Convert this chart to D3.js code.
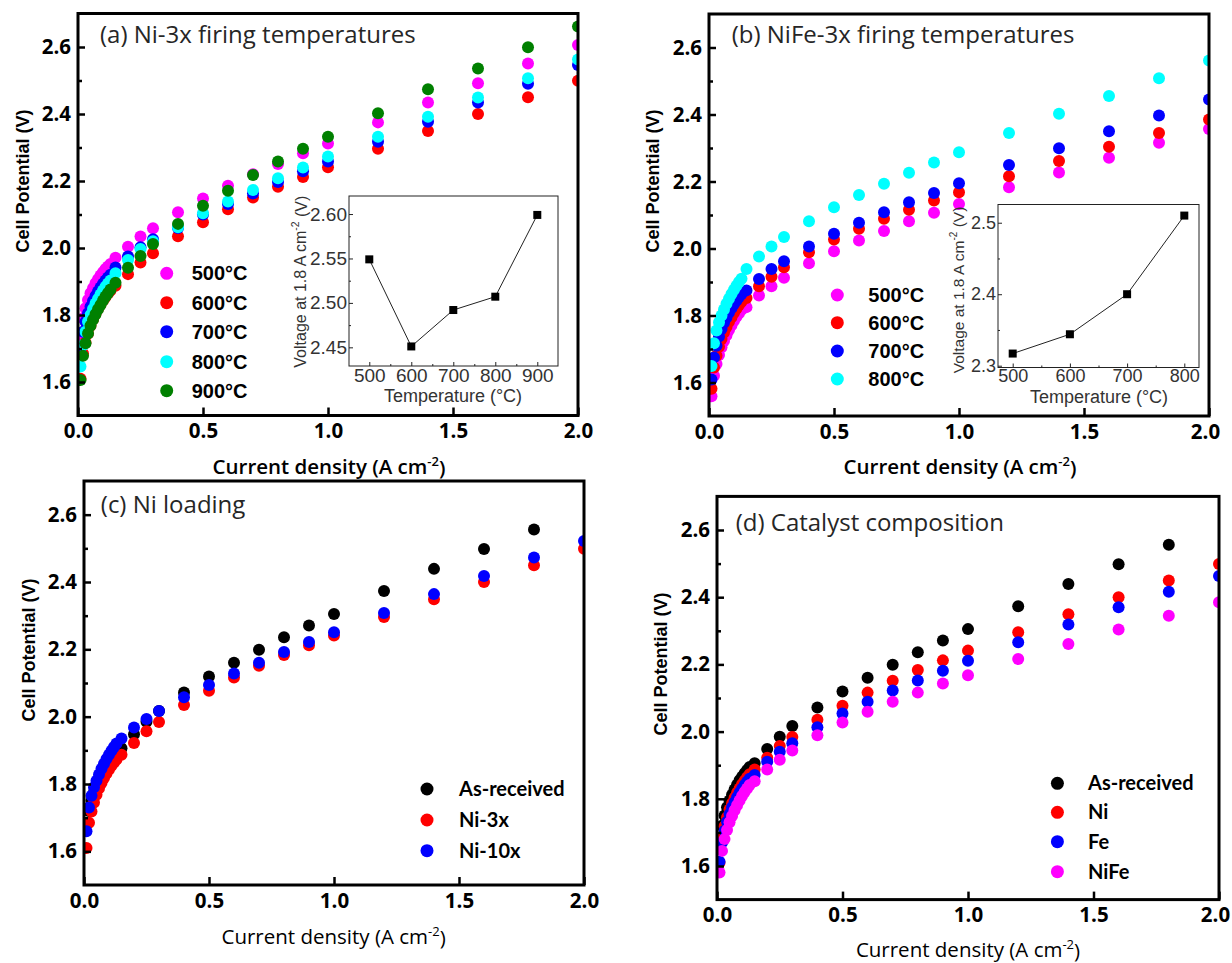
<!DOCTYPE html>
<html><head><meta charset="utf-8">
<script src="https://cdn.jsdelivr.net/npm/d3@7"></script>
<style>body{margin:0;background:#fff}</style>
</head><body>
<svg id="chart" width="1232" height="963"></svg>
<script>
// ---------- DATA ----------
const currentDensity = [0.01,0.02,0.03,0.04,0.05,0.06,0.07,0.08,0.09,0.10,0.11,0.12,0.13,
  0.15,0.2,0.25,0.3,0.4,0.5,0.6,0.7,0.8,0.9,1.0,1.2,1.4,1.6,1.8,2.0];
const yTicks = [1.6,1.8,2.0,2.2,2.4,2.6];
const yMinorTicks = [1.7,1.9,2.1,2.3,2.5];
const xTicks = [0,0.5,1.0,1.5,2.0];

// (a) Ni-3x firing temperatures
const a500 = [1.74,1.79,1.82,1.845,1.865,1.88,1.895,1.907,1.918,1.928,1.937,1.945,1.952,
  1.971,2.004,2.034,2.059,2.107,2.148,2.186,2.220,2.251,2.283,2.312,2.375,2.434,2.492,2.551,2.606];
const a600 = [1.61,1.685,1.718,1.745,1.768,1.787,1.803,1.818,1.831,1.843,1.854,1.864,1.873,
  1.887,1.922,1.957,1.984,2.035,2.077,2.116,2.151,2.183,2.212,2.241,2.296,2.349,2.400,2.450,2.499];
const a700 = [1.70,1.75,1.78,1.805,1.825,1.842,1.857,1.870,1.882,1.893,1.903,1.912,1.920,
  1.942,1.975,2.002,2.026,2.060,2.100,2.131,2.163,2.197,2.229,2.258,2.317,2.377,2.434,2.490,2.546];
const a800 = [1.646,1.71,1.75,1.78,1.80,1.818,1.834,1.848,1.861,1.873,1.884,1.894,1.903,
  1.925,1.964,1.997,2.020,2.062,2.104,2.139,2.173,2.208,2.240,2.273,2.332,2.392,2.449,2.507,2.563];
const a900 = [1.606,1.678,1.716,1.745,1.768,1.786,1.802,1.817,1.830,1.843,1.855,1.866,1.876,
  1.896,1.941,1.976,2.012,2.072,2.126,2.171,2.218,2.258,2.296,2.332,2.402,2.474,2.536,2.599,2.661];

// (b) NiFe-3x firing temperatures
const b500 = [1.559,1.62,1.655,1.682,1.705,1.724,1.741,1.757,1.771,1.784,1.796,1.807,1.817,
  1.825,1.860,1.887,1.913,1.956,1.992,2.024,2.052,2.081,2.107,2.133,2.183,2.227,2.271,2.316,2.357];
const b600 = [1.581,1.645,1.68,1.707,1.73,1.749,1.766,1.781,1.795,1.808,1.820,1.831,1.841,
  1.852,1.887,1.916,1.944,1.989,2.027,2.059,2.089,2.116,2.143,2.168,2.216,2.261,2.304,2.345,2.385];
const b700 = [1.609,1.675,1.71,1.737,1.76,1.778,1.794,1.809,1.822,1.834,1.845,1.855,1.864,
  1.875,1.909,1.939,1.962,2.006,2.044,2.077,2.108,2.138,2.166,2.195,2.249,2.299,2.350,2.397,2.445];
const b800 = [1.649,1.717,1.755,1.78,1.80,1.818,1.835,1.850,1.864,1.877,1.889,1.900,1.910,
  1.939,1.976,2.006,2.034,2.081,2.123,2.160,2.193,2.226,2.257,2.287,2.345,2.402,2.455,2.508,2.561];

// (c)/(d) loading and composition
const asReceived = [1.68,1.72,1.75,1.775,1.795,1.812,1.828,1.842,1.855,1.866,1.876,1.886,1.895,
  1.906,1.948,1.985,2.017,2.072,2.119,2.160,2.199,2.236,2.271,2.305,2.373,2.439,2.498,2.556];
const ni3x = a600;
const ni10x = [1.66,1.73,1.765,1.79,1.81,1.828,1.845,1.860,1.874,1.887,1.899,1.910,1.920,
  1.935,1.968,1.993,2.017,2.058,2.094,2.128,2.160,2.192,2.222,2.251,2.308,2.364,2.418,2.473,2.522];
const feCat = [1.613,1.67,1.705,1.732,1.755,1.774,1.790,1.805,1.818,1.830,1.841,1.851,1.860,
  1.871,1.910,1.940,1.965,2.013,2.054,2.089,2.122,2.152,2.181,2.211,2.266,2.319,2.370,2.416,2.463];
const niFeCat = b600;

// insets: voltage at 1.8 A cm-2 vs firing temperature
const insetATemps = [500,600,700,800,900];
const insetAVolts = [2.549,2.451,2.492,2.507,2.599];
const insetBTemps = [500,600,700,800];
const insetBVolts = [2.317,2.344,2.400,2.510];

// ---------- DRAW ----------
const svg = d3.select("#chart");
const CAL = "'Open Sans', Lato, sans-serif";
const LATO = "Lato, 'Open Sans', sans-serif";
const ARIAL = "'Liberation Sans', Arial, sans-serif";
const colors = {mag:"#ff00ff", red:"#ff0000", blue:"#0000ff", cyan:"#00ffff", green:"#008000", black:"#000000"};

const panels = [
  {id:"a", box:{l:78,r:578,t:13.5,b:415.5}, title:"(a) Ni-3x firing temperatures", titlePos:[100,35],
   ylab:[22.7,181], xlab:[329,467], legendFont:ARIAL, legendSize:20, legendWeight:"bold",
   legend:{mx:166.7, tx:191.7, ys:[273.3,302.7,331.7,361.7,390.7]},
   series:[{n:"500°C",c:colors.mag,v:a500},{n:"600°C",c:colors.red,v:a600},{n:"700°C",c:colors.blue,v:a700},
           {n:"800°C",c:colors.cyan,v:a800},{n:"900°C",c:colors.green,v:a900}]},
  {id:"b", box:{l:709,r:1209,t:14,b:416}, title:"(b) NiFe-3x firing temperatures", titlePos:[731.7,35],
   ylab:[653,181], xlab:[960,467], legendFont:ARIAL, legendSize:20, legendWeight:"bold",
   legend:{mx:837.3, tx:868.3, ys:[295,322.7,351,379]},
   series:[{n:"500°C",c:colors.mag,v:b500},{n:"600°C",c:colors.red,v:b600},{n:"700°C",c:colors.blue,v:b700},
           {n:"800°C",c:colors.cyan,v:b800}]},
  {id:"c", box:{l:84,r:584,t:481,b:885}, title:"(c) Ni loading", titlePos:[100.8,505],
   ylab:[29,650], xlab:[333.6,937], legendFont:LATO, legendSize:20, legendWeight:"bold",
   legend:{mx:427, tx:459, ys:[789,820,850.7]},
   series:[{n:"As-received",c:colors.black,v:asReceived},{n:"Ni-3x",c:colors.red,v:ni3x},{n:"Ni-10x",c:colors.blue,v:ni10x}]},
  {id:"d", box:{l:717,r:1219,t:496.4,b:899.6}, title:"(d) Catalyst composition", titlePos:[735.7,522.7],
   ylab:[661,664], xlab:[968,950], legendFont:LATO, legendSize:20, legendWeight:"bold",
   legend:{mx:1057.4, tx:1088, ys:[783.3,812.3,841.7,871.7]},
   series:[{n:"As-received",c:colors.black,v:asReceived},{n:"Ni",c:colors.red,v:ni3x},{n:"Fe",c:colors.blue,v:feCat},{n:"NiFe",c:colors.mag,v:niFeCat}]}
];

const defs = svg.append("defs");

panels.forEach(p => {
  const {l,r,t,b} = p.box;
  const x = d3.scaleLinear().domain([0,2]).range([l,r]);
  const y = d3.scaleLinear().domain([1.5,2.7]).range([b,t]);
  const g = svg.append("g");

  defs.append("clipPath").attr("id","clip-"+p.id)
    .append("rect").attr("x",l).attr("y",t).attr("width",r-l).attr("height",b-t);

  // points
  const pg = g.append("g").attr("clip-path","url(#clip-"+p.id+")");
  p.series.forEach(s => {
    pg.append("g").selectAll("circle")
      .data(s.v.map((v,i)=>[currentDensity[i], v]))
      .join("circle")
      .attr("cx", d=>x(d[0])).attr("cy", d=>y(d[1])).attr("r",6)
      .attr("fill", s.c);
  });

  // axes
  const ya = g.append("g").attr("transform",`translate(${l},0)`)
    .call(d3.axisLeft(y).tickValues(yTicks).tickFormat(d3.format(".1f")).tickSizeInner(-7).tickSizeOuter(0).tickPadding(7));
  const ym = g.append("g").attr("transform",`translate(${l},0)`)
    .call(d3.axisLeft(y).tickValues(yMinorTicks).tickFormat("").tickSizeInner(-4).tickSizeOuter(0));
  const xa = g.append("g").attr("transform",`translate(0,${b})`)
    .call(d3.axisBottom(x).tickValues(xTicks).tickFormat(d3.format(".1f")).tickSizeInner(-8).tickSizeOuter(0).tickPadding(8));
  [ya,ym,xa].forEach(ax => {
    ax.select(".domain").remove();
    ax.selectAll("line").attr("stroke","#000").attr("stroke-width",2.5);
    ax.selectAll("text").attr("font-family",CAL).attr("font-size",20.5).attr("font-weight","bold").attr("fill","#000");
  });
  // keep the last tick label inside the canvas
  if (r > 1200) xa.selectAll(".tick text").filter(d => d === 2.0).attr("dx", -4);

  // frame
  g.append("rect").attr("x",l).attr("y",t).attr("width",r-l).attr("height",b-t)
    .attr("fill","none").attr("stroke","#000").attr("stroke-width",3);

  // title
  g.append("text").attr("x",p.titlePos[0]).attr("y",p.titlePos[1]).attr("dy","0.35em")
    .attr("font-family",CAL).attr("font-size",24).attr("fill","#262626").text(p.title);

  // y label
  g.append("text").attr("transform",`translate(${p.ylab[0]},${p.ylab[1]}) rotate(-90)`)
    .attr("text-anchor","middle").attr("dy","0.35em")
    .attr("font-family",ARIAL).attr("font-size",18).attr("font-weight","bold").attr("fill","#000")
    .text("Cell Potential (V)");

  // x label
  const top = p.id==="a"||p.id==="b";
  const xl = g.append("text").attr("x",p.xlab[0]).attr("y",p.xlab[1]).attr("dy","0.35em")
    .attr("text-anchor","middle").attr("font-family",CAL).attr("font-size",20.5)
    .attr("font-weight", top ? 600 : "normal").attr("fill","#000");
  xl.append("tspan").text("Current density (A cm");
  xl.append("tspan").attr("font-size",13).attr("dy","-0.6em").text("-2");
  xl.append("tspan").attr("dy","0.4em").text(")");

  // legend
  p.series.forEach((s,i) => {
    g.append("circle").attr("cx",p.legend.mx).attr("cy",p.legend.ys[i]).attr("r",6.5).attr("fill",s.c);
    g.append("text").attr("x",p.legend.tx).attr("y",p.legend.ys[i]).attr("dy","0.35em")
      .attr("font-family",p.legendFont).attr("font-size",p.legendSize).attr("font-weight",p.legendWeight)
      .attr("fill","#000").text(s.n);
  });
});

// ---------- INSETS ----------
const insets = [
  {box:{l:349,r:558,t:196,b:366}, xd:[451.7,949.3], yd:[2.429,2.6203], temps:insetATemps, volts:insetAVolts,
   yt:[2.45,2.50,2.55,2.60], ym:[2.475,2.525,2.575], yf:".2f", xm:[550,650,750,850],
   ylab:[300.7,281.7], xlab:[453,396], tf:19, lf:16, xf:18},
  {box:{l:998,r:1199,t:204.5,b:367.5}, xd:[474.3,825.7], yd:[2.2975,2.5255], temps:insetBTemps, volts:insetBVolts,
   yt:[2.3,2.4,2.5], ym:[2.35,2.45], yf:".1f", xm:[550,650,750],
   ylab:[958.3,290], xlab:[1099,397], tf:18, lf:15.5, xf:18}
];
insets.forEach(ins => {
  const {l,r,t,b} = ins.box;
  const x = d3.scaleLinear().domain(ins.xd).range([l,r]);
  const y = d3.scaleLinear().domain(ins.yd).range([b,t]);
  const g = svg.append("g");
  g.append("rect").attr("x",l).attr("y",t).attr("width",r-l).attr("height",b-t)
    .attr("fill","#fff").attr("stroke","#222").attr("stroke-width",1);
  const axs = [];
  axs.push(g.append("g").attr("transform",`translate(${l},0)`)
    .call(d3.axisLeft(y).tickValues(ins.yt).tickFormat(d3.format(ins.yf)).tickSizeInner(-4).tickSizeOuter(0).tickPadding(2)));
  axs.push(g.append("g").attr("transform",`translate(${l},0)`)
    .call(d3.axisLeft(y).tickValues(ins.ym).tickFormat("").tickSizeInner(-2).tickSizeOuter(0)));
  axs.push(g.append("g").attr("transform",`translate(0,${b})`)
    .call(d3.axisBottom(x).tickValues(ins.temps).tickFormat(d3.format("d")).tickSizeInner(-4).tickSizeOuter(0).tickPadding(2)));
  axs.push(g.append("g").attr("transform",`translate(0,${b})`)
    .call(d3.axisBottom(x).tickValues(ins.xm).tickFormat("").tickSizeInner(-2).tickSizeOuter(0)));
  axs.forEach(ax => {
    ax.select(".domain").remove();
    ax.selectAll("line").attr("stroke","#222");
    ax.selectAll("text").attr("font-family",ARIAL).attr("font-size",ins.tf).attr("fill","#333");
  });
  const line = d3.line().x((d)=>x(d[0])).y(d=>y(d[1]));
  const pts = ins.temps.map((tv,i)=>[tv, ins.volts[i]]);
  g.append("path").attr("d",line(pts)).attr("fill","none").attr("stroke","#222").attr("stroke-width",1);
  g.selectAll("rect.pt").data(pts).join("rect").attr("class","pt")
    .attr("x",d=>x(d[0])-4).attr("y",d=>y(d[1])-4).attr("width",8).attr("height",8).attr("fill","#000");
  const yl = g.append("text").attr("transform",`translate(${ins.ylab[0]},${ins.ylab[1]}) rotate(-90)`)
    .attr("text-anchor","middle").attr("dy","0.35em").attr("font-family",ARIAL).attr("font-size",ins.lf).attr("fill","#333");
  yl.append("tspan").text("Voltage at 1.8 A cm");
  yl.append("tspan").attr("font-size",ins.lf*0.65).attr("dy","-0.7em").text("-2");
  yl.append("tspan").attr("dy","0.5em").text(" (V)");
  g.append("text").attr("x",ins.xlab[0]).attr("y",ins.xlab[1]).attr("dy","0.35em").attr("text-anchor","middle")
    .attr("font-family",ARIAL).attr("font-size",ins.xf).attr("fill","#333").text("Temperature (°C)");
});
</script>
</body></html>
